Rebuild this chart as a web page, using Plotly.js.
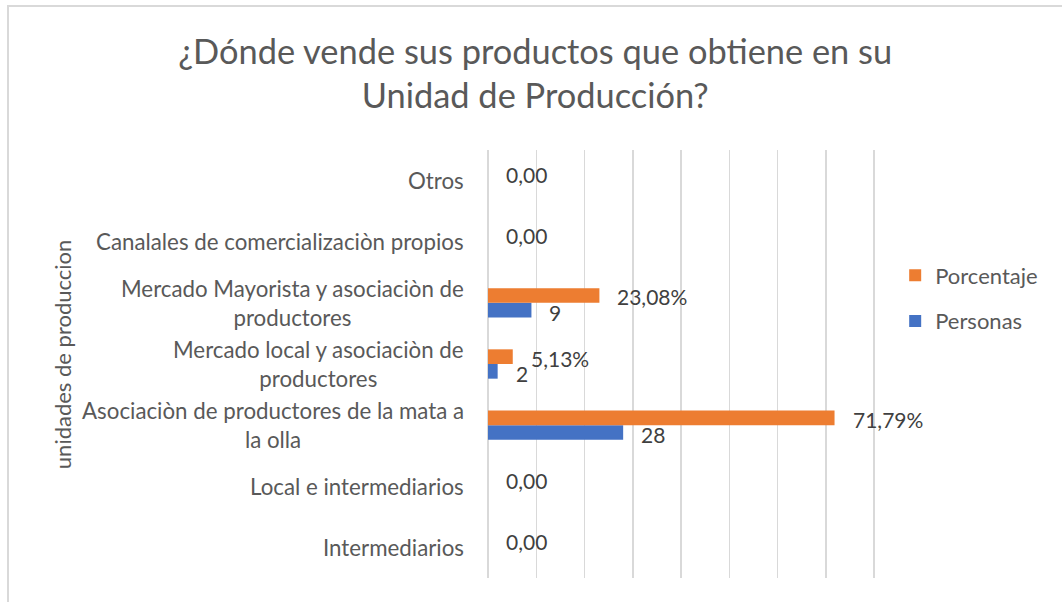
<!DOCTYPE html>
<html><head><meta charset="utf-8">
<script src="https://cdn.plot.ly/plotly-3.0.1.min.js"></script>
<style>
html,body{margin:0;padding:0;background:#fff;}
body{position:relative;width:1062px;height:602px;overflow:hidden;}
#chart{width:1062px;height:602px;}
#frame{position:absolute;left:7px;top:5px;width:1100px;height:650px;border-left:2px solid #D9D9D9;border-top:2px solid #D9D9D9;pointer-events:none;}
</style></head>
<body><div id="chart"></div><div id="frame"></div>
<script>
// Categories, bottom to top
const categories = [
  'Intermediarios',
  'Local e intermediarios',
  'Asociaciòn de productores de la mata a<br>la olla',
  'Mercado local y asociaciòn de<br>productores',
  'Mercado Mayorista y asociaciòn de<br>productores',
  'Canalales de comercializaciòn propios',
  'Otros'
];
const personas   = [0, 0, 28, 2, 9, 0, 0];
const porcentaje = [0, 0, 71.79, 5.13, 23.08, 0, 0];
const personasLabels   = ['', '', '28', '2', '9', '', ''];
const porcentajeLabels = ['0,00', '0,00', '71,79%', '5,13%', '23,08%', '0,00', '0,00'];
const xTicks = [0, 10, 20, 30, 40, 50, 60, 70, 80];

const BLUE = '#4472C4', ORANGE = '#ED7D31';
const FONT = 'Lato, "Open Sans", sans-serif';
const GREY = '#595959', DARK = '#404040';

const traces = [
  {type:'bar', orientation:'h', name:'Personas', y:categories, x:personas,
   marker:{color:BLUE}, legendgroup:'b', legendrank:2, hoverinfo:'x+y'},
  {type:'bar', orientation:'h', name:'Porcentaje', y:categories, x:porcentaje,
   marker:{color:ORANGE}, legendgroup:'a', legendrank:1, hoverinfo:'x+y'}
];

const annotations = [];
categories.forEach((c, i) => {
  annotations.push({xref:'paper', yref:'y', x:0, y:c, xshift:-22, xanchor:'right', yanchor:'middle',
    align:'center', text:c, showarrow:false, font:{family:FONT, size:22.3, color:GREY}});
  if (porcentajeLabels[i]) annotations.push({xref:'x', yref:'y', x:porcentaje[i], y:c, xshift:16, yshift:6,
    xanchor:'left', yanchor:'middle', text:porcentajeLabels[i], showarrow:false,
    font:{family:FONT, size:21, color:DARK}});
  if (personasLabels[i]) annotations.push({xref:'x', yref:'y', x:personas[i], y:c, xshift:16, yshift:-9.5,
    xanchor:'left', yanchor:'middle', text:personasLabels[i], showarrow:false,
    font:{family:FONT, size:21, color:DARK}});
});
annotations.push({xref:'paper', yref:'paper', x:0, xshift:-426, y:0.523, xanchor:'center', yanchor:'middle',
  textangle:-90, text:'unidades de produccion', showarrow:false, font:{family:FONT, size:22, color:GREY}});

const plotW = 386 * 81 / 80;
const layout = {
  width:1062, height:602,
  margin:{l:488, r:1062 - 488 - plotW, t:150, b:24},
  paper_bgcolor:'rgba(0,0,0,0)', plot_bgcolor:'rgba(0,0,0,0)',
  title:{text:'¿Dónde vende sus productos que obtiene en su<br>Unidad de Producción?',
    xref:'container', x:0.504, xanchor:'center', yref:'container', y:0.8945, yanchor:'middle',
    font:{family:FONT, size:34.4, color:GREY}},
  barmode:'group', bargap:0.52, bargroupgap:0,
  xaxis:{range:[0,81], tickvals:xTicks, showticklabels:false, showgrid:true, gridcolor:'#D9D9D9', gridwidth:1.5,
    zeroline:true, zerolinecolor:'#D9D9D9', zerolinewidth:1.5, showline:false, ticks:'', fixedrange:true},
  yaxis:{type:'category', categoryorder:'array', categoryarray:categories, showticklabels:false,
    showgrid:false, zeroline:false, showline:false, ticks:'', fixedrange:true},
  showlegend:true,
  legend:{x:(895-488)/plotW, xref:'paper', xanchor:'left', y:(578-298.5)/428, yanchor:'middle',
    traceorder:'grouped', tracegroupgap:14, itemsizing:'constant',
    font:{family:FONT, size:22, color:GREY}, bgcolor:'rgba(0,0,0,0)'},
  annotations:annotations
};

Plotly.newPlot('chart', traces, layout, {displayModeBar:false, staticPlot:true});
</script></body></html>
